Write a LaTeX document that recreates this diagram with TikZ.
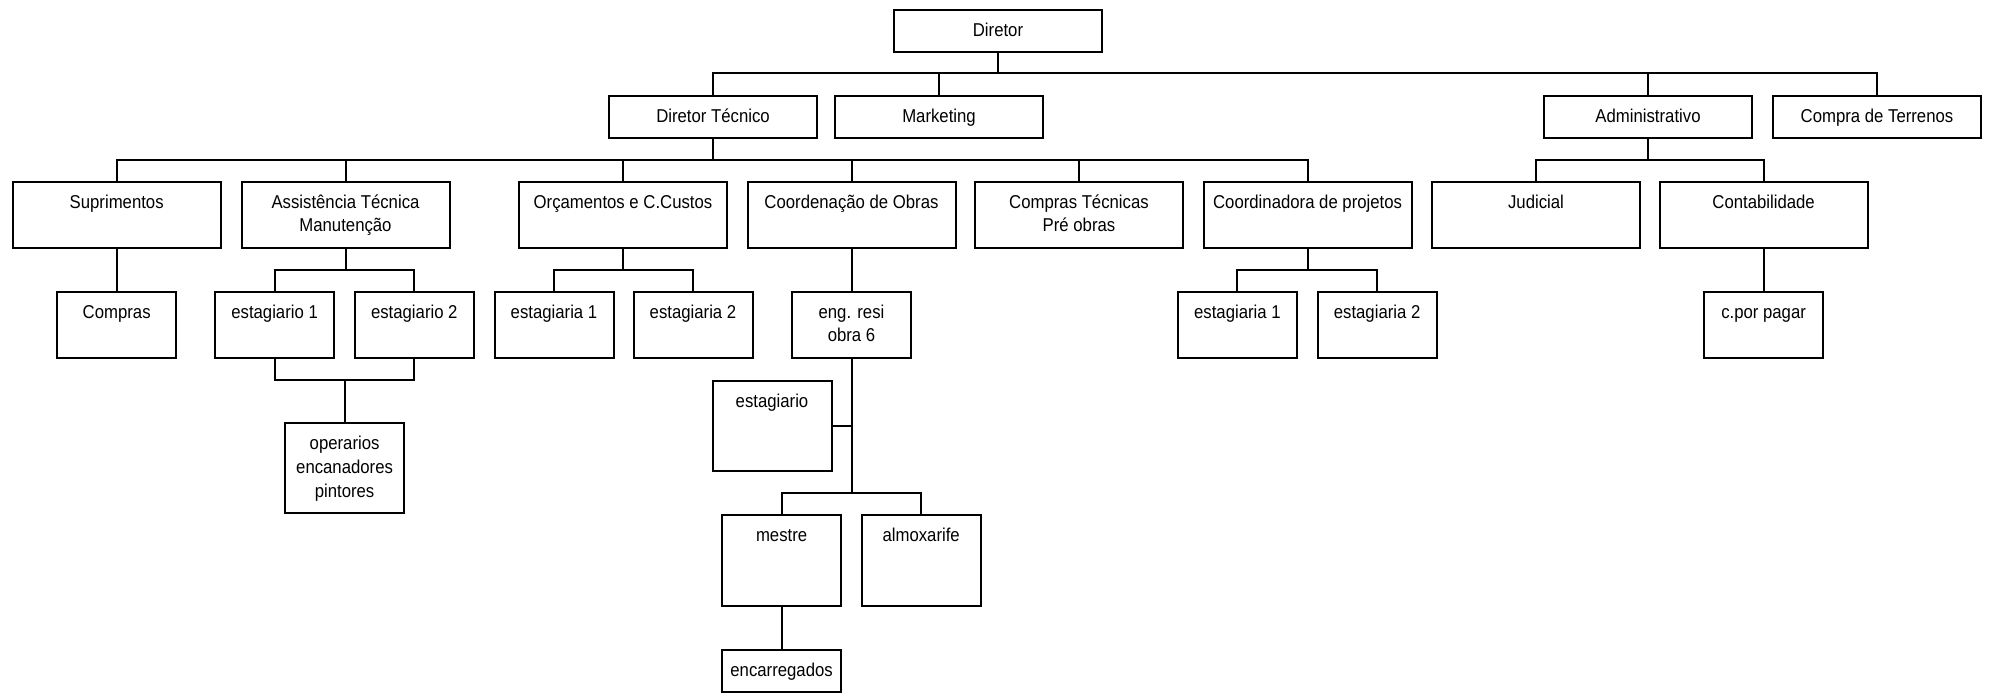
\documentclass[tikz,border=0pt]{standalone}
\usepackage{fontspec}
\setmainfont[FakeStretch=0.9]{Liberation Sans}
\usetikzlibrary{calc}

% box contents: width, height, text (first baseline at a fixed depth from the top)
\newcommand{\bx}[3]{\parbox[t][#2][t]{#1}{\centering\rule{0pt}{26.5pt}#3}}

\begin{document}
\begin{tikzpicture}[x=1pt,y=-1pt,
  box/.style={draw, line width=2pt, inner sep=0pt, outer sep=0pt, anchor=north,
              font=\fontsize{18.6pt}{23.6pt}\selectfont},
  link/.style={line width=2pt},
  fork/.style={link}]
\useasboundingbox (0,0) rectangle (1990,694);

% top
\node[box] (dir) at (998,9.5) {\bx{208pt}{42pt}{Diretor}};

% first level
\node[box] (dt)   at (713,95.5)  {\bx{208pt}{42pt}{Diretor Técnico}};
\node[box] (mkt)  at (939,95.5)  {\bx{208pt}{42pt}{Marketing}};
\node[box] (adm)  at (1648,95.5) {\bx{208pt}{42pt}{Administrativo}};
\node[box] (terr) at (1877,95.5) {\bx{208pt}{42pt}{Compra de Terrenos}};

% second level
\node[box] (sup) at (116.7,181.7) {\bx{208pt}{66pt}{Suprimentos}};
\node[box] (ast) at (345.5,181.7) {\bx{208pt}{66pt}{Assistência Técnica\\Manutenção}};
\node[box] (orc) at (623,181.7)   {\bx{208pt}{66pt}{Orçamentos e C.Custos}};
\node[box] (coo) at (851.5,181.7) {\bx{208pt}{66pt}{Coordenação de Obras}};
\node[box] (cpt) at (1079,181.7)  {\bx{208pt}{66pt}{Compras Técnicas\\Pré obras}};
\node[box] (cdp) at (1307.6,181.7){\bx{208pt}{66pt}{Coordinadora de projetos}};
\node[box] (jud) at (1536,181.7)  {\bx{208pt}{66pt}{Judicial}};
\node[box] (cnt) at (1763.6,181.7){\bx{208pt}{66pt}{Contabilidade}};

% third level
\node[box] (cmp) at (116.7,291.7)  {\bx{119pt}{66pt}{Compras}};
\node[box] (e1)  at (274.6,291.7)  {\bx{119pt}{66pt}{estagiario 1}};
\node[box] (e2)  at (414.3,291.7)  {\bx{119pt}{66pt}{estagiario 2}};
\node[box] (oa1) at (554,291.7)    {\bx{119pt}{66pt}{estagiaria 1}};
\node[box] (oa2) at (693,291.7)    {\bx{119pt}{66pt}{estagiaria 2}};
\node[box] (eng) at (851.5,291.7)  {\bx{119pt}{66pt}{eng. resi\\obra 6}};
\node[box] (ca1) at (1237.4,291.7) {\bx{119pt}{66pt}{estagiaria 1}};
\node[box] (ca2) at (1377.1,291.7) {\bx{119pt}{66pt}{estagiaria 2}};
\node[box] (cpp) at (1763.6,291.7) {\bx{119pt}{66pt}{c.por pagar}};

% lower boxes
\node[box] (ope) at (344.6,423.3) {\bx{119pt}{90pt}{operarios\\encanadores\\pintores}};
\node[box] (est) at (772,380.7)   {\bx{119pt}{90pt}{estagiario}};
\node[box] (mes) at (781.6,515)   {\bx{119pt}{90.7pt}{mestre}};
\node[box] (alm) at (921.2,515)   {\bx{119pt}{90.7pt}{almoxarife}};
\node[box] (enc) at (781.6,650)   {\bx{119pt}{42.3pt}{encarregados}};

% forks
\foreach \c in {dt,mkt,adm,terr}
  \draw[fork] (dir.south) -- ++(0,21.8) -| (\c.north);
\foreach \c in {sup,ast,orc,coo,cpt,cdp}
  \draw[fork] (dt.south) -- ++(0,22.1) -| (\c.north);
\foreach \c in {jud,cnt}
  \draw[fork] (adm.south) -- ++(0,22.1) -| (\c.north);
\foreach \c in {e1,e2}
  \draw[fork] (ast.south) -- ++(0,21.8) -| (\c.north);
\foreach \c in {oa1,oa2}
  \draw[fork] (orc.south) -- ++(0,21.8) -| (\c.north);
\foreach \c in {ca1,ca2}
  \draw[fork] (cdp.south) -- ++(0,21.8) -| (\c.north);
\foreach \p in {e1,e2}
  \draw[fork] (\p.south) -- ++(0,22.3) -| (ope.north);

% single links
\draw[link] (sup.south) -- (cmp.north);
\draw[link] (coo.south) -- (eng.north);
\draw[link] (cnt.south) -- (cpp.north);
\draw[link] (mes.south) -- (enc.north);

% site engineer branch
\coordinate (mb) at (eng.south |- 0,492.7);
\draw[link] (eng.south) -- (mb);
\draw[link] (est.east) -- (est.east -| eng.south);
\draw[fork] (mb) -| (mes.north);
\draw[fork] (mb) -| (alm.north);
\end{tikzpicture}
\end{document}
